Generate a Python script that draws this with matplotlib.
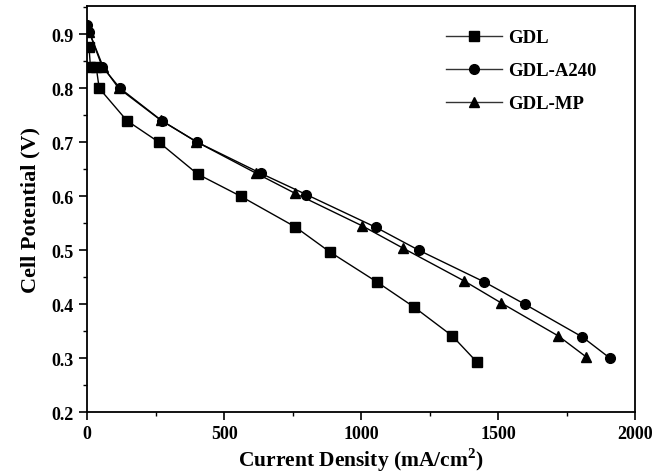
import matplotlib.pyplot as plt
from matplotlib.ticker import MultipleLocator

# данные
gdl_x = [7, 12, 33, 44, 145, 262, 403, 560, 760, 885, 1058, 1192, 1333, 1422]
gdl_y = [0.876, 0.84, 0.84, 0.80, 0.74, 0.70, 0.641, 0.60, 0.543, 0.497, 0.441, 0.395, 0.341, 0.293]

a240_x = [0, 8, 55, 120, 272, 402, 635, 800, 1055, 1210, 1450, 1597, 1808, 1908]
a240_y = [0.918, 0.904, 0.84, 0.80, 0.74, 0.70, 0.642, 0.603, 0.542, 0.50, 0.441, 0.40, 0.339, 0.30]

mp_x = [0, 8, 58, 115, 268, 398, 615, 760, 1004, 1152, 1376, 1512, 1720, 1822]
mp_y = [0.918, 0.904, 0.84, 0.80, 0.741, 0.701, 0.643, 0.605, 0.545, 0.504, 0.443, 0.402, 0.341, 0.302]

plt.rcParams['font.family'] = ['Liberation Serif', 'DejaVu Serif']
plt.rcParams['font.weight'] = 'bold'
plt.rcParams['mathtext.fontset'] = 'custom'
plt.rcParams['mathtext.bf'] = 'Liberation Serif:bold'

fig = plt.figure(figsize=(6.65, 4.77), dpi=100)
ax = fig.add_axes([0.131, 0.134, 0.824, 0.851])

ax.plot(gdl_x, gdl_y, color='black', lw=1, marker='s', ms=6.5, label='GDL')
ax.plot(a240_x, a240_y, color='black', lw=1, marker='o', ms=7, label='GDL-A240')
ax.plot(mp_x, mp_y, color='black', lw=1, marker='^', ms=7.5, label='GDL-MP')

ax.set_xlim(0, 2000)
ax.set_ylim(0.2, 0.952)
ax.xaxis.set_major_locator(MultipleLocator(500))
ax.xaxis.set_minor_locator(MultipleLocator(250))
ax.yaxis.set_major_locator(MultipleLocator(0.1))
ax.yaxis.set_minor_locator(MultipleLocator(0.05))
ax.yaxis.set_major_formatter(plt.FormatStrFormatter('%.1f'))

ax.tick_params(which='major', length=6, width=1.2, labelsize=13, direction='out')
ax.tick_params(which='minor', length=3, width=1.0, direction='out')
for s in ax.spines.values():
    s.set_linewidth(1.3)

ax.set_xlabel('Current Density (mA/cm$^\\mathbf{2}$)', fontsize=15.5, fontweight='bold', labelpad=2)
ax.set_ylabel('Cell Potential (V)', fontsize=16, fontweight='bold', labelpad=8)

leg = ax.legend(loc='upper right', bbox_to_anchor=(0.96, 0.985), frameon=False, fontsize=13.5,
                handlelength=3.0, handletextpad=0.3, labelspacing=0.85)
for line in leg.get_lines():
    line.set_color('#333333')
    line.set_markerfacecolor('black')
    line.set_markeredgecolor('black')

fig.savefig('out.png', dpi=100)
